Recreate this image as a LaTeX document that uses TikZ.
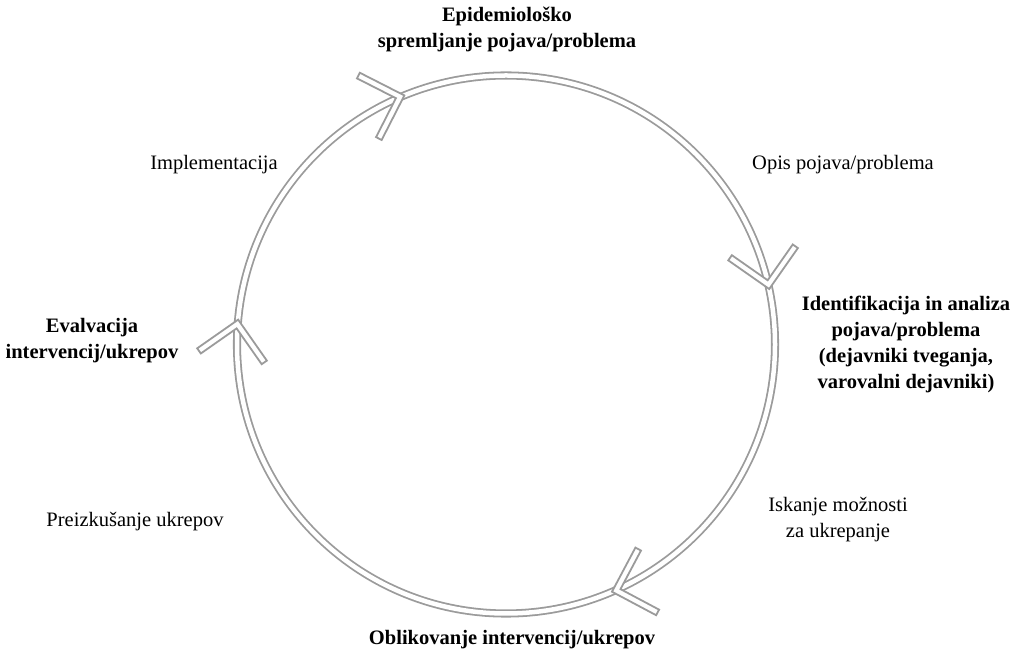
\documentclass[tikz,border=0pt]{standalone}
\usepackage{fontspec}
\setmainfont{Liberation Serif}
\definecolor{ringgray}{RGB}{155,155,155}
\tikzset{
  ring/.style={draw=ringgray, line width=1.8pt, double=white, double distance=4.5pt},
  lbl/.style={inner sep=0pt, align=center, font=\fontsize{20.5}{26}\selectfont},
  blbl/.style={lbl, font=\fontsize{20.5}{26}\selectfont\bfseries},
  chevron/.pic={
    \filldraw[fill=white, draw=ringgray, line width=1.8pt, line join=miter]
      (0,0) -- (-35.36,35.36) -- (-39.81,30.9) -- (-8.91,0)
      -- (-39.81,-30.9) -- (-35.36,-35.36) -- cycle;
  }
}
\begin{document}
\begin{tikzpicture}[x=1pt,y=1pt]
\useasboundingbox (0,0) rectangle (1015,653);
\coordinate (C) at (506,308.5);
\draw[ring] (C) circle[radius=269pt];
\pic[rotate=18] at ([shift={(112.2:269pt)}]C) {chevron};
\pic[rotate=-80] at ([shift={(11.9:269pt)}]C) {chevron};
\pic[rotate=-163] at ([shift={(-66.8:269pt)}]C) {chevron};
\pic[rotate=80] at ([shift={(174.7:269pt)}]C) {chevron};

\node[blbl] (epi) at (507,624) {Epidemiološko\\spremljanje pojava/problema};
\node[lbl] (opis) at (843,488) {Opis pojava/problema};
\node[blbl] (ident) at (906,309) {Identifikacija in analiza\\pojava/problema\\(dejavniki tveganja,\\varovalni dejavniki)};
\node[lbl] (isk) at (838,133) {Iskanje možnosti\\za ukrepanje};
\node[blbl] (obl) at (512,13) {Oblikovanje intervencij/ukrepov};
\node[lbl] (prei) at (135,131) {Preizkušanje ukrepov};
\node[blbl] (eval) at (92,312) {Evalvacija\\intervencij/ukrepov};
\node[lbl] (impl) at (214,488) {Implementacija};
\end{tikzpicture}
\end{document}
